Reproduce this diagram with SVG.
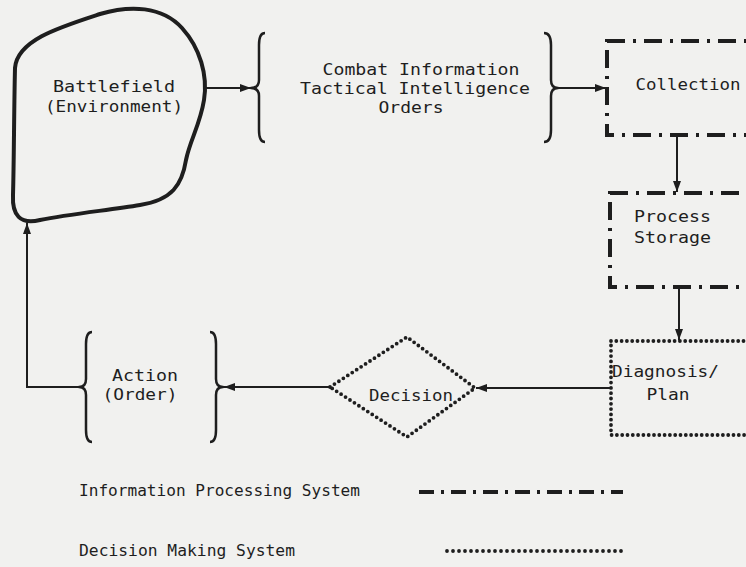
<svg xmlns="http://www.w3.org/2000/svg" width="746" height="567" viewBox="0 0 746 567">
<style>
text{font-family:"DejaVu Sans Mono","Liberation Mono",monospace;fill:#1e1e1e;font-size:16px}
.lg{font-size:15px}
.conn{fill:none;stroke:#1e1e1e;stroke-width:2}
.brace{fill:none;stroke:#1e1e1e;stroke-width:2.5;stroke-linejoin:round}
.ips{fill:none;stroke:#1e1e1e;stroke-width:4;stroke-dasharray:18 8 3 8}
.dms{fill:none;stroke:#1e1e1e;stroke-width:3.8;stroke-dasharray:0 5.3;stroke-linecap:round}
</style>
<defs>
<marker id="ah" markerUnits="userSpaceOnUse" markerWidth="11" markerHeight="8" refX="11" refY="4" orient="auto">
<path d="M0,0 L11,4 L0,8 z" fill="#1e1e1e"/>
</marker>
</defs>
<rect width="746" height="567" fill="#f1f1ef"/>

<g id="connectors">
<line class="conn" x1="205" y1="88" x2="251" y2="88" marker-end="url(#ah)"/>
<line class="conn" x1="558" y1="88" x2="606" y2="88" marker-end="url(#ah)"/>
<line class="conn" x1="677" y1="136" x2="677" y2="192" marker-end="url(#ah)"/>
<line class="conn" x1="679" y1="289" x2="679" y2="340" marker-end="url(#ah)"/>
<line class="conn" x1="611" y1="388" x2="476" y2="388" marker-end="url(#ah)"/>
<line class="conn" x1="330" y1="387" x2="224" y2="387" marker-end="url(#ah)"/>
<polyline class="conn" points="79,387 27,387 27,223" marker-end="url(#ah)"/>
</g>

<g id="battlefield">
<path d="M15 68 C17 40 60 27 100 14 C130 5 162 6 182 28 C200 48 208 75 204 100 C200 125 190 140 186 160 C182 185 172 200 140 205 C110 210 70 214 40 220 C20 225 12 215 13 195 C14 160 14 110 15 68 Z" fill="none" stroke="#1e1e1e" stroke-width="4"/>
<text x="114" y="92" text-anchor="middle" textLength="122" lengthAdjust="spacingAndGlyphs">Battlefield</text>
<text x="114" y="112" text-anchor="middle" textLength="138" lengthAdjust="spacingAndGlyphs">(Environment)</text>
</g>

<g id="information">
<path class="brace" d="M265 33 Q259 33 259 45 L259 80 Q259 88 251 88 Q259 88 259 96 L259 130 Q259 142 265 142"/>
<path class="brace" d="M544 33 Q551 33 551 45 L551 80 Q551 88 558 88 Q551 88 551 96 L551 130 Q551 142 544 142"/>
<text x="421" y="75" text-anchor="middle" textLength="197" lengthAdjust="spacingAndGlyphs">Combat Information</text>
<text x="415" y="94" text-anchor="middle" textLength="230" lengthAdjust="spacingAndGlyphs">Tactical Intelligence</text>
<text x="411" y="113" text-anchor="middle" textLength="65" lengthAdjust="spacingAndGlyphs">Orders</text>
</g>

<g id="collection">
<rect class="ips" x="607" y="41" width="160" height="94"/>
<text x="688" y="90" text-anchor="middle" textLength="105" lengthAdjust="spacingAndGlyphs">Collection</text>
</g>

<g id="process">
<rect class="ips" x="610" y="193" width="160" height="94"/>
<text x="634" y="222" textLength="77" lengthAdjust="spacingAndGlyphs">Process</text>
<text x="634" y="243" textLength="77" lengthAdjust="spacingAndGlyphs">Storage</text>
</g>

<g id="diagnosis">
<rect class="dms" x="611" y="341" width="160" height="94"/>
<text x="612" y="377" textLength="107" lengthAdjust="spacingAndGlyphs">Diagnosis/</text>
<text x="668" y="400" text-anchor="middle" textLength="43" lengthAdjust="spacingAndGlyphs">Plan</text>
</g>

<g id="decision">
<polygon class="dms" points="330,387 407,337 475,388 407,437"/>
<text x="411" y="401" text-anchor="middle" textLength="84" lengthAdjust="spacingAndGlyphs">Decision</text>
</g>

<g id="action">
<path class="brace" d="M92 332 Q86 332 86 344 L86 379 Q86 387 79 387 Q86 387 86 395 L86 430 Q86 442 92 442"/>
<path class="brace" d="M210 332 Q216 332 216 344 L216 379 Q216 387 223 387 Q216 387 216 395 L216 430 Q216 442 210 442"/>
<text x="145" y="381" text-anchor="middle" textLength="66" lengthAdjust="spacingAndGlyphs">Action</text>
<text x="140" y="400" text-anchor="middle" textLength="75" lengthAdjust="spacingAndGlyphs">(Order)</text>
</g>

<g id="legend">
<text class="lg" x="79" y="496" textLength="281" lengthAdjust="spacingAndGlyphs">Information Processing System</text>
<line x1="419" y1="492" x2="623" y2="492" fill="none" stroke="#1e1e1e" stroke-width="4" stroke-dasharray="15 7 3 7"/>
<text class="lg" x="79" y="556" textLength="216" lengthAdjust="spacingAndGlyphs">Decision Making System</text>
<line x1="447" y1="551" x2="623" y2="551" fill="none" stroke="#1e1e1e" stroke-width="3.8" stroke-dasharray="0 6" stroke-linecap="round"/>
</g>
</svg>
